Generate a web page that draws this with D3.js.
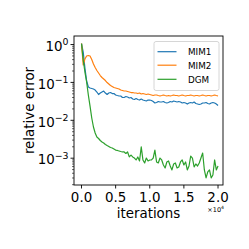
<!DOCTYPE html>
<html>
<head>
<meta charset="utf-8">
<script src="https://cdn.jsdelivr.net/npm/d3@7"></script>
<style>
  html, body { margin: 0; padding: 0; background: #fff; }
  svg { display: block; font-family: "DejaVu Sans", sans-serif; }
</style>
</head>
<body>
<div id="chart"></div>
<script>
// x positions (iterations), one sample every 250 iterations
const iterations = [
  0, 250, 500, 750, 1000, 1250, 1500, 1750, 2000, 2250,
  2500, 2750, 3000, 3250, 3500, 3750, 4000, 4250, 4500, 4750,
  5000, 5250, 5500, 5750, 6000, 6250, 6500, 6750, 7000, 7250,
  7500, 7750, 8000, 8250, 8500, 8750, 9000, 9250, 9500, 9750,
  10000, 10250, 10500, 10750, 11000, 11250, 11500, 11750, 12000, 12250,
  12500, 12750, 13000, 13250, 13500, 13750, 14000, 14250, 14500, 14750,
  15000, 15250, 15500, 15750, 16000, 16250, 16500, 16750, 17000, 17250,
  17500, 17750, 18000, 18250, 18500, 18750, 19000, 19250, 19500, 19750,
  20000
];

const mim1 = [
  1.06, 0.634, 0.240, 0.109, 0.0756, 0.0712, 0.0691, 0.0670, 0.0630, 0.0558,
  0.0480, 0.0525, 0.0558, 0.0593, 0.0525, 0.0480, 0.0525, 0.0541, 0.0509, 0.0509,
  0.0466, 0.0451, 0.0438, 0.0438, 0.0400, 0.0400, 0.0425, 0.0412, 0.0388, 0.0400,
  0.0365, 0.0354, 0.0376, 0.0354, 0.0343, 0.0365, 0.0343, 0.0333, 0.0323, 0.0343,
  0.0343, 0.0333, 0.0313, 0.0286, 0.0295, 0.0313, 0.0304, 0.0304, 0.0313, 0.0295,
  0.0286, 0.0295, 0.0313, 0.0304, 0.0323, 0.0313, 0.0304, 0.0313, 0.0304, 0.0286,
  0.0295, 0.0286, 0.0269, 0.0286, 0.0295, 0.0286, 0.0304, 0.0277, 0.0269, 0.0261,
  0.0269, 0.0286, 0.0286, 0.0295, 0.0277, 0.0269, 0.0286, 0.0295, 0.0286, 0.0269,
  0.0246
];

const mim2 = [
  1.06, 0.288, 0.414, 0.497, 0.513, 0.497, 0.402, 0.306, 0.247, 0.206,
  0.177, 0.152, 0.135, 0.123, 0.112, 0.0993, 0.0907, 0.0828, 0.0779, 0.0733,
  0.0712, 0.0691, 0.0670, 0.0630, 0.0611, 0.0593, 0.0593, 0.0575, 0.0558, 0.0541,
  0.0541, 0.0525, 0.0525, 0.0509, 0.0525, 0.0494, 0.0509, 0.0494, 0.0480, 0.0494,
  0.0480, 0.0466, 0.0451, 0.0466, 0.0466, 0.0451, 0.0438, 0.0451, 0.0466, 0.0451,
  0.0438, 0.0451, 0.0438, 0.0451, 0.0466, 0.0451, 0.0451, 0.0438, 0.0451, 0.0466,
  0.0451, 0.0438, 0.0451, 0.0451, 0.0466, 0.0451, 0.0438, 0.0451, 0.0451, 0.0438,
  0.0451, 0.0466, 0.0451, 0.0438, 0.0451, 0.0451, 0.0438, 0.0451, 0.0466, 0.0451,
  0.0438
];

const dgm = [
  1.06, 0.39, 0.188, 0.1025, 0.0466, 0.0238, 0.0115, 0.00666, 0.00462, 0.00362,
  0.00331, 0.00293, 0.00267, 0.00252, 0.00230, 0.00216, 0.00204, 0.00191, 0.00186, 0.00175,
  0.00164, 0.00160, 0.00155, 0.00150, 0.00146, 0.00146, 0.00133, 0.00146, 0.00108, 0.00121,
  0.00108, 0.00101, 0.000897, 0.00108, 0.000844, 0.00198, 0.000897, 0.000747, 0.00101, 0.000844,
  0.000897, 0.000897, 0.00101, 0.00164, 0.000794, 0.000747, 0.00101, 0.000897, 0.000662, 0.000551,
  0.000794, 0.000844, 0.000622, 0.000489, 0.000703, 0.000747, 0.000551, 0.000586, 0.000794, 0.000897,
  0.000662, 0.000794, 0.000489, 0.000622, 0.00114, 0.00101, 0.000586, 0.000703, 0.000622, 0.000747,
  0.00101, 0.00137, 0.000489, 0.000301, 0.000433, 0.000489, 0.000301, 0.000361, 0.000897, 0.000489,
  0.000622
];

const seriesNames = ["MIM1", "MIM2", "DGM"];
const seriesColors = ["#1f77b4", "#ff7f0e", "#2ca02c"];
const xTicks = [0, 5000, 10000, 15000, 20000];
const xTickLabels = ["0.0", "0.5", "1.0", "1.5", "2.0"];
const yTicks = [1, 0.1, 0.01, 0.001];
const yTickExps = ["0", "\u22121", "\u22122", "\u22123"];

const W = 249, H = 249;
const plot = { left: 74, right: 223, top: 36, bottom: 185 };
const fontSize = 13.4;

const svg = d3.select("#chart").append("svg")
  .attr("width", W).attr("height", H);

const x = d3.scaleLinear().domain([-1100, 20730]).range([plot.left, plot.right]);
const y = d3.scaleLog().domain([1.96e-4, 1.68]).range([plot.bottom, plot.top]);

// Data lines (clipped to axes)
svg.append("clipPath").attr("id", "clip")
  .append("rect")
  .attr("x", plot.left).attr("y", plot.top)
  .attr("width", plot.right - plot.left).attr("height", plot.bottom - plot.top);

const line = d3.line()
  .x((d, i) => x(iterations[i]))
  .y(d => y(d));

const lines = svg.append("g").attr("clip-path", "url(#clip)");
[mim1, mim2, dgm].forEach((vals, k) => {
  lines.append("path")
    .attr("d", line(vals))
    .attr("fill", "none")
    .attr("stroke", seriesColors[k])
    .attr("stroke-width", 1.2)
    .attr("stroke-linejoin", "round");
});

// Frame
svg.append("rect")
  .attr("x", plot.left).attr("y", plot.top)
  .attr("width", plot.right - plot.left).attr("height", plot.bottom - plot.top)
  .attr("fill", "none").attr("stroke", "#000").attr("stroke-width", 0.9);

// X axis
const xAxis = svg.append("g");
xTicks.forEach((t, i) => {
  const px = x(t);
  xAxis.append("line")
    .attr("x1", px).attr("x2", px)
    .attr("y1", plot.bottom).attr("y2", plot.bottom + 3.5)
    .attr("stroke", "#000").attr("stroke-width", 0.9);
  xAxis.append("text")
    .attr("x", px).attr("y", 202)
    .attr("text-anchor", "middle")
    .attr("font-size", fontSize)
    .text(xTickLabels[i]);
});

xAxis.append("text")
  .attr("x", (plot.left + plot.right) / 2).attr("y", 217.5)
  .attr("text-anchor", "middle")
  .attr("font-size", fontSize)
  .text("iterations");

// Offset text ×10^4
const off = xAxis.append("text")
  .attr("x", 224).attr("y", 212)
  .attr("text-anchor", "end")
  .attr("font-size", 6.5);
off.append("tspan").text("\u00d710");
off.append("tspan").attr("font-size", 4.6).attr("dy", -3).text("4");

// Y axis: major + minor ticks
const yAxis = svg.append("g");
const minorTicks = [];
[1e-4, 1e-3, 1e-2, 1e-1, 1].forEach(dec => {
  for (let m = 2; m <= 9; m++) minorTicks.push(dec * m);
});
minorTicks.filter(v => y(v) >= plot.top && y(v) <= plot.bottom).forEach(v => {
  yAxis.append("line")
    .attr("x1", plot.left - 2).attr("x2", plot.left)
    .attr("y1", y(v)).attr("y2", y(v))
    .attr("stroke", "#000").attr("stroke-width", 0.6);
});
yTicks.forEach((t, i) => {
  const py = y(t);
  yAxis.append("line")
    .attr("x1", plot.left - 3.5).attr("x2", plot.left)
    .attr("y1", py).attr("y2", py)
    .attr("stroke", "#000").attr("stroke-width", 0.9);
  const lbl = yAxis.append("text")
    .attr("x", 68.5).attr("y", py + 6.3)
    .attr("text-anchor", "end")
    .attr("font-size", fontSize);
  lbl.append("tspan").text("10");
  lbl.append("tspan").attr("font-size", 9.4).attr("dy", -5.5).text(yTickExps[i]);
});

yAxis.append("text")
  .attr("transform", `translate(33.5, ${(plot.top + plot.bottom) / 2}) rotate(-90)`)
  .attr("text-anchor", "middle")
  .attr("font-size", fontSize)
  .text("relative error");

// Legend
const legend = svg.append("g");
legend.append("rect")
  .attr("x", 154).attr("y", 41.5)
  .attr("width", 65).attr("height", 49)
  .attr("rx", 2)
  .attr("fill", "#fff").attr("fill-opacity", 0.8)
  .attr("stroke", "#ccc").attr("stroke-width", 0.8);
const rowY = [51.7, 65.2, 79.3];
seriesNames.forEach((name, k) => {
  legend.append("line")
    .attr("x1", 157.5).attr("x2", 176.5)
    .attr("y1", rowY[k]).attr("y2", rowY[k])
    .attr("stroke", seriesColors[k]).attr("stroke-width", 1.2);
  legend.append("text")
    .attr("x", 188).attr("y", rowY[k] + 3.3)
    .attr("font-size", 8.8)
    .text(name);
});
</script>
</body>
</html>
